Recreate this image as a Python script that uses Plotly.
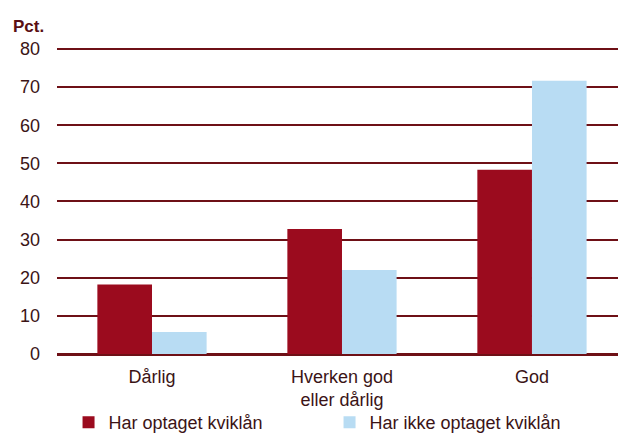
import plotly.graph_objects as go

categories = ["Dårlig", "Hverken god<br>eller dårlig", "God"]
har_optaget = [18.2, 32.8, 48.3]
har_ikke_optaget = [5.8, 22.0, 71.7]
y_ticks = [0, 10, 20, 30, 40, 50, 60, 70, 80]

RED = "#9b0b1e"
LIGHT = "#b8dcf3"
GRID = "#6e1016"
TEXT = "#3b1416"

fig = go.Figure()
fig.add_trace(go.Bar(x=categories, y=har_optaget, name="Har optaget kviklån",
                     marker=dict(color=RED, line=dict(width=0))))
fig.add_trace(go.Bar(x=categories, y=har_ikke_optaget, name="Har ikke optaget kviklån",
                     marker=dict(color=LIGHT, line=dict(width=0))))

fig.update_layout(
    width=626, height=433,
    margin=dict(l=49, r=0, t=39, b=87, autoexpand=False),
    paper_bgcolor="white", plot_bgcolor="white",
    barmode="group", bargap=0.425, bargroupgap=0,
    font=dict(family="Liberation Sans, Arial, sans-serif", size=18, color=TEXT),
    showlegend=True,
    legend=dict(orientation="h", x=0.02, xanchor="left", y=-0.163, yanchor="top",
                entrywidth=216, entrywidthmode="pixels",
                font=dict(size=18, color=TEXT), itemwidth=30,
                tracegroupgap=0, bgcolor="rgba(0,0,0,0)"),
    xaxis=dict(range=[-0.5, 2.537], showgrid=False, showline=False, ticks="", automargin=False,
               ticklabelstandoff=10, tickfont=dict(size=18, color=TEXT)),
    yaxis=dict(range=[0, 80.52], tickvals=y_ticks, showgrid=True, gridcolor=GRID, gridwidth=2,
               zeroline=True, zerolinecolor=GRID, zerolinewidth=2.5, automargin=False,
               showline=False, ticks="", ticklabelstandoff=16,
               tickfont=dict(size=18, color=TEXT)),
    annotations=[dict(text="<b>Pct.</b>", xref="paper", yref="paper", x=-0.079, y=1.0,
                      xanchor="left", yanchor="middle", yshift=21, showarrow=False,
                      font=dict(size=17, color="#5a0f14"))],
)

fig.write_html("out.html")
